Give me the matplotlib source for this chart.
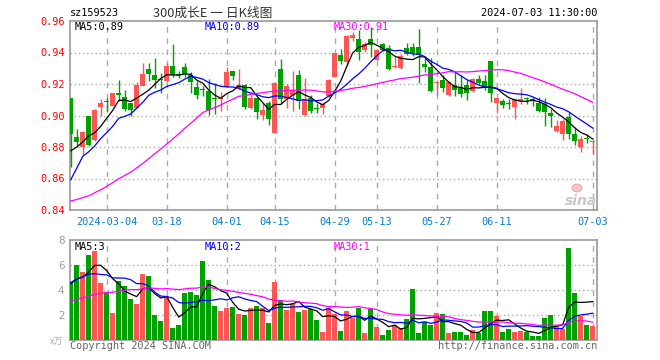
import matplotlib
matplotlib.use('Agg')
import matplotlib.pyplot as plt
from matplotlib.patches import Ellipse
import numpy as np

# ---------------- data ----------------
dates = (['2024-02-%02d' % d for d in [23, 26, 27, 28, 29]] +
         ['2024-03-%02d' % d for d in [1, 4, 5, 6, 7, 8, 11, 12, 13, 14, 15, 18, 19, 20, 21, 22, 25, 26, 27, 28, 29]] +
         ['2024-04-%02d' % d for d in [1, 2, 3, 8, 9, 10, 11, 12, 15, 16, 17, 18, 19, 22, 23, 24, 25, 26, 29, 30]] +
         ['2024-05-%02d' % d for d in [6, 7, 8, 9, 10, 13, 14, 15, 16, 17, 20, 21, 22, 23, 24, 27, 28, 29, 30, 31]] +
         ['2024-06-%02d' % d for d in [3, 4, 5, 6, 7, 11, 12, 13, 14, 17, 18, 19, 20, 21, 24, 25, 26, 27, 28]] +
         ['2024-07-%02d' % d for d in [1, 2, 3]])

open_ = [0.911, 0.8865, 0.8798, 0.8996, 0.8842, 0.9052, 0.9093, 0.9063, 0.9142, 0.912,
         0.9077, 0.9046, 0.9185, 0.9296, 0.9258, 0.9232, 0.9217, 0.9316, 0.9265, 0.9307,
         0.9258, 0.918, 0.9165, 0.9158, 0.9108, 0.9103, 0.9182, 0.9284, 0.9168, 0.9195,
         0.9046, 0.9109, 0.9003, 0.9077, 0.8892, 0.9296, 0.9103, 0.913, 0.9258, 0.9002,
         0.9112, 0.9048, 0.9046, 0.9123, 0.9244, 0.9383, 0.934, 0.949, 0.9485, 0.9415,
         0.9485, 0.9352, 0.9455, 0.9426, 0.9305, 0.930, 0.9428, 0.9435, 0.9435, 0.9328,
         0.9309, 0.9205, 0.9225, 0.913, 0.9194, 0.918, 0.9194, 0.9153, 0.9231, 0.922,
         0.9345, 0.9078, 0.9095, 0.9079, 0.9054, 0.9092, 0.9106, 0.9104, 0.9081, 0.9071,
         0.9015, 0.8903, 0.8882, 0.899, 0.888, 0.8803, 0.8855, 0.883]
high = [0.911, 0.8915, 0.8902, 0.900, 0.904, 0.9105, 0.911, 0.9146, 0.9225, 0.9165,
        0.9077, 0.921, 0.9331, 0.9333, 0.9362, 0.927, 0.9332, 0.9455, 0.928, 0.9335,
        0.9279, 0.922, 0.9185, 0.923, 0.9208, 0.9148, 0.931, 0.9284, 0.9293, 0.920,
        0.9133, 0.911, 0.9081, 0.909, 0.921, 0.9358, 0.9197, 0.9284, 0.929, 0.924,
        0.9127, 0.908, 0.908, 0.923, 0.9398, 0.9425, 0.951, 0.953, 0.954, 0.9465,
        0.956, 0.942, 0.946, 0.945, 0.938, 0.939, 0.946, 0.946, 0.955, 0.9368,
        0.9368, 0.9225, 0.926, 0.922, 0.9278, 0.926, 0.9225, 0.924, 0.9255, 0.926,
        0.9345, 0.911, 0.9105, 0.9102, 0.911, 0.9175, 0.9117, 0.9118, 0.9117, 0.9112,
        0.904, 0.897, 0.8977, 0.902, 0.8925, 0.8872, 0.8882, 0.8838]
low = [0.8675, 0.880, 0.8758, 0.8805, 0.8838, 0.8995, 0.902, 0.906, 0.909, 0.903,
       0.900, 0.9046, 0.9185, 0.9217, 0.9175, 0.914, 0.9215, 0.9244, 0.9235, 0.9244,
       0.9144, 0.9105, 0.9125, 0.9005, 0.9008, 0.903, 0.9182, 0.9223, 0.9165, 0.9044,
       0.904, 0.8975, 0.897, 0.894, 0.8887, 0.9077, 0.9046, 0.903, 0.904, 0.900,
       0.9018, 0.9018, 0.9008, 0.9115, 0.9244, 0.933, 0.933, 0.947, 0.935, 0.9405,
       0.937, 0.935, 0.941, 0.9286, 0.930, 0.9295, 0.9385, 0.938, 0.9205, 0.9274,
       0.915, 0.9127, 0.915, 0.9126, 0.9126, 0.912, 0.9099, 0.9147, 0.920, 0.9165,
       0.9085, 0.9015, 0.9045, 0.9044, 0.8975, 0.907, 0.907, 0.906, 0.9025, 0.8935,
       0.8925, 0.8895, 0.8845, 0.885, 0.8815, 0.8768, 0.8828, 0.8755]
close = [0.888, 0.883, 0.8897, 0.8812, 0.9035, 0.9082, 0.9088, 0.9144, 0.913, 0.9044,
         0.9038, 0.9196, 0.9265, 0.9262, 0.9226, 0.9225, 0.9316, 0.9258, 0.9255, 0.9266,
         0.9213, 0.9132, 0.9161, 0.9038, 0.9104, 0.9112, 0.9279, 0.9249, 0.9195, 0.9052,
         0.9109, 0.902, 0.9034, 0.898, 0.9209, 0.9105, 0.9185, 0.9165, 0.9095, 0.9102,
         0.9028, 0.9043, 0.9075, 0.9227, 0.9397, 0.9347, 0.9505, 0.9512, 0.9402, 0.9455,
         0.945, 0.9415, 0.9413, 0.9295, 0.9312, 0.938, 0.9392, 0.9395, 0.9387, 0.9306,
         0.9157, 0.921, 0.9176, 0.921, 0.9162, 0.9135, 0.9143, 0.9231, 0.9205, 0.918,
         0.9142, 0.9108, 0.9065, 0.9074, 0.9103, 0.9106, 0.9102, 0.91, 0.903, 0.902,
         0.8998, 0.8933, 0.8965, 0.888, 0.8835, 0.885, 0.8852, 0.8838]
volume = [4.53, 6.0, 5.41, 6.8, 7.12, 4.56, 3.87, 2.16, 4.72, 4.32,
          3.28, 2.88, 5.28, 5.12, 2.0, 1.52, 3.47, 0.96, 1.2, 3.76,
          3.81, 3.6, 6.32, 4.8, 2.72, 2.32, 2.56, 2.64, 2.08, 2.0,
          2.56, 2.72, 2.56, 1.36, 4.64, 3.17, 2.4, 2.91, 2.24, 2.4,
          2.48, 1.6, 0.64, 2.6, 2.05, 0.72, 2.32, 1.73, 2.56, 0.56,
          2.51, 1.04, 0.4, 0.8, 1.2, 0.93, 1.68, 4.08, 0.56, 1.41,
          1.2, 2.13, 2.05, 0.56, 0.61, 0.61, 0.4, 0.8, 0.59, 2.32,
          2.32, 1.92, 0.64, 0.88, 0.64, 0.72, 0.64, 0.32, 0.32, 1.76,
          2.0, 1.12, 0.88, 7.36, 3.76, 1.92, 1.2, 1.12]

# closes / volumes of the 29 sessions before the window (estimated from the MA lines' start)
prev_close = [0.856, 0.852, 0.848, 0.846, 0.850, 0.846, 0.842, 0.838, 0.843, 0.840,
              0.838, 0.842, 0.836, 0.828, 0.832, 0.838, 0.830, 0.825, 0.822, 0.828,
              0.810, 0.814, 0.852, 0.866, 0.862, 0.871, 0.874, 0.862, 0.893]
prev_volume = [2.3, 2.1, 2.5, 2.2, 2.4, 1.9, 1.7, 2.0, 1.8, 2.1,
               2.9, 3.3, 2.8, 3.2, 2.9, 2.6, 2.2, 2.4, 2.0, 2.3,
               3.4, 3.5, 4.8, 6.6, 5.2, 4.2, 4.6, 4.8, 4.4]

tick_dates = ['2024-03-04', '2024-03-18', '2024-04-01', '2024-04-15', '2024-04-29',
              '2024-05-13', '2024-05-27', '2024-06-11', '2024-07-03']
tick_labels = ['2024-03-04', '03-18', '04-01', '04-15', '04-29', '05-13', '05-27', '06-11', '07-03']
price_ticks = [0.84, 0.86, 0.88, 0.90, 0.92, 0.94, 0.96]
vol_ticks = [2, 4, 6, 8]

code = 'sz159523'
title = '300成长E 一 日K线图'
stamp = '2024-07-03 11:30:00'

# ---------------- styles ----------------
RED = '#ff5555'
GREEN = '#00a000'
GRID = '#aaaaaa'
SPINE = '#999999'
MONO = 'DejaVu Sans Mono'
W, H = 660, 360

def ma(series, prev, n):
    s = np.array(list(prev) + list(series), dtype=float)
    k = len(prev)
    return np.array([s[k + i - n + 1:k + i + 1].mean() for i in range(len(series))])

o = np.array(open_); h = np.array(high); l = np.array(low); c = np.array(close)
v = np.array(volume)
x = np.arange(len(c))
up = c >= o
cols = np.where(up, RED, GREEN)

fig = plt.figure(figsize=(W / 100, H / 100), dpi=100)
fig.patch.set_facecolor('white')

def fx(px):
    return px / W

def fy(py):
    return 1 - py / H

L, R = 70, 597
ax1 = fig.add_axes([fx(L), fy(210), fx(R - L), (210 - 21) / H])
ax2 = fig.add_axes([fx(L), fy(340), fx(R - L), (340 - 240) / H])

xlim = (-0.12, 87.72)
tick_idx = [dates.index(d) for d in tick_dates]

for ax in (ax1, ax2):
    ax.set_xlim(*xlim)
    for s in ax.spines.values():
        s.set_color(SPINE)
        s.set_linewidth(1.2)
    for t in tick_idx:
        ax.axvline(t, color=GRID, lw=1.0, ls=(0, (4, 4)), zorder=0)

# price panel
ax1.set_ylim(0.84, 0.96)
for yv in price_ticks[1:-1]:
    ax1.axhline(yv, color=GRID, lw=1.0, ls=(0, (1, 2)), zorder=0)
ax1.vlines(x, l, h, colors=cols, lw=1.0, zorder=3)
body_bot = np.minimum(o, c)
body_h = np.maximum(np.abs(c - o), 0.0007)
ax1.bar(x, body_h, bottom=body_bot, width=0.82, color=cols, edgecolor='none', zorder=4)
ax1.plot(x, ma(close, prev_close, 5), color='black', lw=0.9, zorder=5)
ax1.plot(x, ma(close, prev_close, 10), color='#0000ff', lw=0.9, zorder=5)
ax1.plot(x, ma(close, prev_close, 30), color='#ff00ff', lw=0.9, zorder=5)

ax1.set_yticks(price_ticks)
ax1.set_yticklabels(['%.2f' % t for t in price_ticks], color='#ff0000', fontfamily=MONO, fontsize=7.4)
ax1.tick_params(axis='y', length=0, pad=4)
ax1.set_xticks(tick_idx)
ax1.set_xticklabels(tick_labels, color='#0a7bd0', fontfamily=MONO, fontsize=7.4)
ax1.tick_params(axis='x', length=0, pad=5)

# volume panel
ax2.set_ylim(0, 8)
for yv in vol_ticks[:-1]:
    ax2.axhline(yv, color=GRID, lw=1.0, ls=(0, (1, 2)), zorder=0)
ax2.bar(x, v, width=0.8, color=cols, edgecolor='none', zorder=3)
ax2.plot(x, ma(volume, prev_volume, 5), color='black', lw=0.9, zorder=5)
ax2.plot(x, ma(volume, prev_volume, 10), color='#0000ff', lw=0.9, zorder=5)
ax2.plot(x, ma(volume, prev_volume, 30), color='#ff00ff', lw=0.9, zorder=5)
ax2.set_yticks(vol_ticks)
ax2.set_yticklabels([str(t) for t in vol_ticks], color='#999999', fontsize=7.4)
ax2.tick_params(axis='y', length=0, pad=4)
ax2.set_xticks([])

# header texts
fig.text(fx(70), fy(13), code, fontfamily=MONO, fontsize=7.4, color='black', va='center', ha='left')
fig.text(fx(213), fy(13), title, fontfamily=['Noto Sans CJK SC', 'DejaVu Sans'], fontsize=9.2,
         color='#333333', va='center', ha='center')
fig.text(fx(597), fy(13), stamp, fontfamily=MONO, fontsize=7.4, color='black', va='center', ha='right')

pm5 = ma(close, prev_close, 5)[-1]; pm10 = ma(close, prev_close, 10)[-1]; pm30 = ma(close, prev_close, 30)[-1]
vm5 = ma(volume, prev_volume, 5)[-1]; vm10 = ma(volume, prev_volume, 10)[-1]; vm30 = ma(volume, prev_volume, 30)[-1]
fig.text(fx(75), fy(26.5), 'MA5:%.2f' % pm5, fontfamily=MONO, fontsize=7.4, color='black', va='center')
fig.text(fx(205), fy(26.5), 'MA10:%.2f' % pm10, fontfamily=MONO, fontsize=7.4, color='#0000ff', va='center')
fig.text(fx(334), fy(26.5), 'MA30:%.2f' % pm30, fontfamily=MONO, fontsize=7.4, color='#ff00ff', va='center')
fig.text(fx(75), fy(246.5), 'MA5:%d' % int(vm5), fontfamily=MONO, fontsize=7.4, color='black', va='center')
fig.text(fx(205), fy(246.5), 'MA10:%d' % int(vm10), fontfamily=MONO, fontsize=7.4, color='#0000ff', va='center')
fig.text(fx(334), fy(246.5), 'MA30:%d' % int(vm30), fontfamily=MONO, fontsize=7.4, color='#ff00ff', va='center')

# footer
fig.text(fx(63), fy(342), 'x万', fontfamily=['Noto Sans CJK SC', 'DejaVu Sans'], fontsize=6.5,
         color='#aaaaaa', va='center', ha='right', style='italic')
fig.text(fx(70), fy(346), 'Copyright 2024 SINA.COM', fontfamily=MONO, fontsize=7.4, color='#666666',
         va='center', ha='left')
fig.text(fx(597), fy(346), 'http://finance.sina.com.cn', fontfamily=MONO, fontsize=7.4, color='#666666',
         va='center', ha='right')

# sina watermark (eye icon drawn as a patch, word as text)
fig.patches.append(Ellipse((fx(577), fy(188)), 10 / W, 8 / H, transform=fig.transFigure,
                           facecolor='#f5c4c4', edgecolor='#eaa0a0', lw=0.6, zorder=1))
fig.text(fx(581), fy(201), 'sina', fontsize=10, fontweight='bold', style='italic', color='#c8c8c8',
         va='center', ha='center')

fig.savefig('out.png', dpi=100)
